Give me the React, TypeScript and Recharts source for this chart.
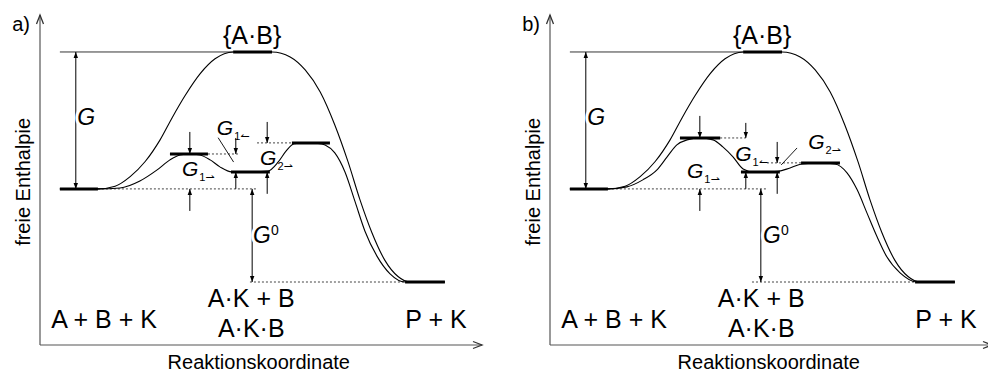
import React from 'react';
import { LineChart, Line, XAxis, YAxis, ReferenceLine, ReferenceDot } from 'recharts';

const FONT = '"Liberation Sans", Arial, Helvetica, sans-serif';
const X_DOMAIN: [number, number] = [0, 100];
const Y_DOMAIN: [number, number] = [-114, 127];

// Reaktionskoordinate 0..100, freie Enthalpie: Edukte = 0, {A·B} = 100
const uncatX = [4.5, 13.1, 17, 20.4, 23.8, 27.2, 29.9, 32.8, 36.2, 39.6, 43.7, 52.5, 56.6, 60, 63.4, 66.7, 69.7, 72.4, 75.1, 78, 81, 83.7, 91.6];
const uncatY = [0, 0, 2, 9, 20, 36, 52, 68, 84, 95, 100, 100, 96.4, 86.9, 70.8, 46.7, 19.7, -8, -32, -52, -64, -68, -68];

const catAX = [4.5, 13.1, 18.1, 22.6, 26.5, 29.4, 31.7, 33.9, 36.2, 38.5, 40.7, 43.4, 47.5, 51.6, 53.9, 55.7, 57.5, 60, 62.9, 64.5, 66.7, 69, 71.3, 73.5, 76.2, 79.2, 82.6, 91.6];
const catAY = [0, 0, 0.7, 5.8, 13.9, 21.2, 24.8, 25.5, 24.8, 21.2, 16.1, 12.4, 12.4, 13.1, 19.7, 27.7, 33, 33.6, 33.2, 32, 26.3, 12.4, -9.5, -30.7, -48.9, -62, -68, -68];

const catBX = [4.5, 13.1, 17.4, 21, 24.2, 26.5, 28.7, 31, 33.9, 36.9, 39.1, 41.4, 43.7, 45.9, 48.6, 51.6, 54.3, 57, 61.1, 64.5, 67.2, 69.5, 71.7, 74, 76.2, 79.2, 83, 91.6];
const catBY = [0, 0, 1.5, 6.6, 13.9, 23.4, 32.1, 35.8, 37.2, 35.8, 30.7, 23.4, 14.5, 12.4, 12.4, 12.8, 15.3, 18.2, 19, 18.2, 11.7, -0.7, -17.5, -35, -49.6, -61.3, -68, -68];

// Niveaus [von, bis, G]
const levelsA = [[4.5, 13.1, 0], [43.7, 52.5, 100], [82.6, 91.6, -68], [29.4, 38.0, 25.5], [43.2, 52.0, 12.4], [57.0, 65.6, 33.6]];
const levelsB = [[4.5, 13.1, 0], [43.7, 52.5, 100], [82.6, 91.6, -68], [29.4, 38.5, 37.2], [43.2, 52.0, 12.4], [56.8, 65.6, 19]];

// gepunktete Hilfslinien [von, bis, G]
const dottedA = [[13.1, 49.1, 0], [38.0, 44.8, 25.5], [49.1, 57.0, 33.6], [47.5, 82.6, -68]];
const dottedB = [[13.1, 49.1, 0], [38.5, 44.3, 37.2], [49.1, 56.8, 19], [45.7, 82.6, -68]];

// Pfeile [x, von, bis]
const arrowsA = [[33.9, 41.6, 25.5], [33.9, -16.1, 0], [44.3, 37.2, 25.5], [44.3, 0, 12.4], [51.4, 48.9, 33.6], [51.4, -3.6, 12.4]];
const arrowsB = [[33.9, 53.3, 37.2], [33.9, -16.1, 0], [44.3, 48.2, 37.2], [44.3, 0, 12.4], [51.4, 34.3, 19], [51.4, -3.6, 12.4]];

const zip = (xs: number[], ys: number[]) => xs.map((x, i) => ({ x, y: ys[i] }));

function head(x: number, y: number, dx: number, dy: number, len: number, half: number) {
  const l = Math.hypot(dx, dy) || 1;
  const ux = dx / l;
  const uy = dy / l;
  const bx = x - ux * len;
  const by = y - uy * len;
  return [bx - uy * half, by + ux * half, x, y, bx + uy * half, by - ux * half];
}

const arrow = (both: boolean, color = '#000', len = 6, half = 2.2) => (p: any) => {
  const { x1, y1, x2, y2 } = p;
  const h1 = head(x2, y2, x2 - x1, y2 - y1, len, half);
  const h2 = head(x1, y1, x1 - x2, y1 - y2, len, half);
  return (
    <g>
      <line x1={x1} y1={y1} x2={x2} y2={y2} stroke={color} strokeWidth={1} />
      <polygon points={h1.join(' ')} fill={color} />
      {both && <polygon points={h2.join(' ')} fill={color} />}
    </g>
  );
};

const axisArrow = (p: any) => {
  const { x1, y1, x2, y2 } = p;
  const h = head(x2, y2, x2 - x1, y2 - y1, 9, 3.5);
  return (
    <g>
      <line x1={x1} y1={y1} x2={x2} y2={y2} stroke="#555" strokeWidth={1.2} />
      <polyline points={h.join(' ')} fill="none" stroke="#333" strokeWidth={1.3} />
    </g>
  );
};

const text = (content: React.ReactNode, extra: any = {}) => (p: any) => (
  <text x={p.cx} y={p.cy} fontFamily={FONT} fontSize={25} fill="#000" textAnchor="middle" {...extra}>
    {content}
  </text>
);

const gSub = (sub: string, dir: string) => (
  <>
    <tspan fontStyle="italic" fontSize={21}>G</tspan>
    <tspan fontSize={11} dy={5} dx={1}>{sub}</tspan>
    <tspan fontSize={11} fontFamily="DejaVu Sans">{dir}</tspan>
  </>
);

const white = { stroke: '#fff', strokeWidth: 6, paintOrder: 'stroke', strokeLinejoin: 'round' };

type Panel = {
  tag: string;
  catX: number[];
  catY: number[];
  levels: number[][];
  dotted: number[][];
  arrows: number[][];
  g1f: [number, number];
  g1b: [number, number];
  g2f: [number, number];
  pointer: number[];
  g0x: number;
};

function EnergyPanel({ tag, catX, catY, levels, dotted, arrows, g1f, g1b, g2f, pointer, g0x }: Panel) {
  return (
    <div style={{ width: 510, flex: '0 0 510px' }}>
      <LineChart width={510} height={376} margin={{ top: 15, right: 28, bottom: 31, left: 40 }}>
        <XAxis type="number" dataKey="x" domain={X_DOMAIN} allowDataOverflow hide />
        <YAxis type="number" dataKey="y" domain={Y_DOMAIN} allowDataOverflow hide />

        <ReferenceLine segment={[{ x: 0, y: -114 }, { x: 100, y: -114 }]} ifOverflow="visible" shape={axisArrow} />
        <ReferenceLine segment={[{ x: 0, y: -114 }, { x: 0, y: 127 }]} ifOverflow="visible" shape={axisArrow} />

        <ReferenceLine segment={[{ x: 4.5, y: 100 }, { x: 43.7, y: 100 }]} ifOverflow="visible" stroke="#000" strokeWidth={0.8} />
        {dotted.map((d, i) => (
          <ReferenceLine key={'d' + i} segment={[{ x: d[0], y: d[2] }, { x: d[1], y: d[2] }]} ifOverflow="visible" stroke="#444" strokeWidth={1} strokeDasharray="2 2" />
        ))}

        <Line data={zip(uncatX, uncatY)} dataKey="y" type="monotone" stroke="#000" strokeWidth={1.1} dot={false} isAnimationActive={false} />
        <Line data={zip(catX, catY)} dataKey="y" type="monotone" stroke="#000" strokeWidth={1.1} dot={false} isAnimationActive={false} />

        {levels.map((l, i) => (
          <ReferenceLine key={'l' + i} segment={[{ x: l[0], y: l[2] }, { x: l[1], y: l[2] }]} ifOverflow="visible" stroke="#000" strokeWidth={3} />
        ))}

        <ReferenceLine segment={[{ x: 8.1, y: 0 }, { x: 8.1, y: 100 }]} ifOverflow="visible" shape={arrow(true)} />
        <ReferenceLine segment={[{ x: g0x, y: 0 }, { x: g0x, y: -68 }]} ifOverflow="visible" shape={arrow(true)} />
        {arrows.map((a, i) => (
          <ReferenceLine key={'a' + i} segment={[{ x: a[0], y: a[1] }, { x: a[0], y: a[2] }]} ifOverflow="visible" shape={arrow(false)} />
        ))}
        <ReferenceLine segment={[{ x: pointer[0], y: pointer[1] }, { x: pointer[2], y: pointer[3] }]} ifOverflow="visible" stroke="#000" strokeWidth={0.9} />

        <ReferenceDot x={-6.3} y={115.5} r={0} ifOverflow="visible" shape={text(tag, { fontSize: 20, textAnchor: 'start' })} />
        <ReferenceDot x={-3.9} y={5.1} r={0} ifOverflow="visible"
          shape={(p: any) => (
            <text x={p.cx} y={p.cy} fontFamily={FONT} fontSize={20} textAnchor="middle" dominantBaseline="central" transform={`rotate(-90 ${p.cx} ${p.cy})`}>
              freie Enthalpie
            </text>
          )}
        />
        <ReferenceDot x={49.5} y={-131.5} r={0} ifOverflow="visible" shape={text('Reaktionskoordinate', { fontSize: 20 })} />

        <ReferenceDot x={48} y={105.8} r={0} ifOverflow="visible" shape={text('{A·B}')} />
        <ReferenceDot x={14.5} y={-101.5} r={0} ifOverflow="visible" shape={text('A + B + K')} />
        <ReferenceDot x={47.8} y={-86.1} r={0} ifOverflow="visible" shape={text('A·K + B')} />
        <ReferenceDot x={47.8} y={-108} r={0} ifOverflow="visible" shape={text('A·K·B')} />
        <ReferenceDot x={89.6} y={-101.5} r={0} ifOverflow="visible" shape={text('P + K')} />

        <ReferenceDot x={8.4} y={46.5} r={0} ifOverflow="visible" shape={text('G', { fontSize: 23, fontStyle: 'italic', textAnchor: 'start', ...white })} />
        <ReferenceDot x={48.2} y={-39.4} r={0} ifOverflow="visible"
          shape={text(
            <>
              <tspan fontStyle="italic">G</tspan>
              <tspan fontSize={14} dy={-8}>0</tspan>
            </>,
            { fontSize: 23, textAnchor: 'start', ...white }
          )}
        />
        <ReferenceDot x={g1f[0]} y={g1f[1]} r={0} ifOverflow="visible" shape={text(gSub('1', '⇀'), { textAnchor: 'start' })} />
        <ReferenceDot x={g1b[0]} y={g1b[1]} r={0} ifOverflow="visible" shape={text(gSub('1', '↼'), { textAnchor: 'start' })} />
        <ReferenceDot x={g2f[0]} y={g2f[1]} r={0} ifOverflow="visible" shape={text(gSub('2', '⇀'), { textAnchor: 'start' })} />
      </LineChart>
    </div>
  );
}

export default function App() {
  return (
    <div style={{ position: 'absolute', left: 0, top: 0, width: 988, height: 376, overflow: 'hidden', background: '#fff', display: 'flex' }}>
      <EnergyPanel
        tag="a)"
        catX={catAX}
        catY={catAY}
        levels={levelsA}
        dotted={dottedA}
        arrows={arrowsA}
        g1f={[32.1, 9.5]}
        g1b={[40.0, 39.4]}
        g2f={[49.8, 17.5]}
        pointer={[40.3, 37.4, 43.8, 19.6]}
        g0x={48.0}
      />
      <EnergyPanel
        tag="b)"
        catX={catBX}
        catY={catBY}
        levels={levelsB}
        dotted={dottedB}
        arrows={arrowsB}
        g1f={[31.0, 8.0]}
        g1b={[41.9, 20.4]}
        g2f={[58.4, 29.5]}
        pointer={[55.9, 29.9, 52.3, 17.5]}
        g0x={47.7}
      />
    </div>
  );
}
